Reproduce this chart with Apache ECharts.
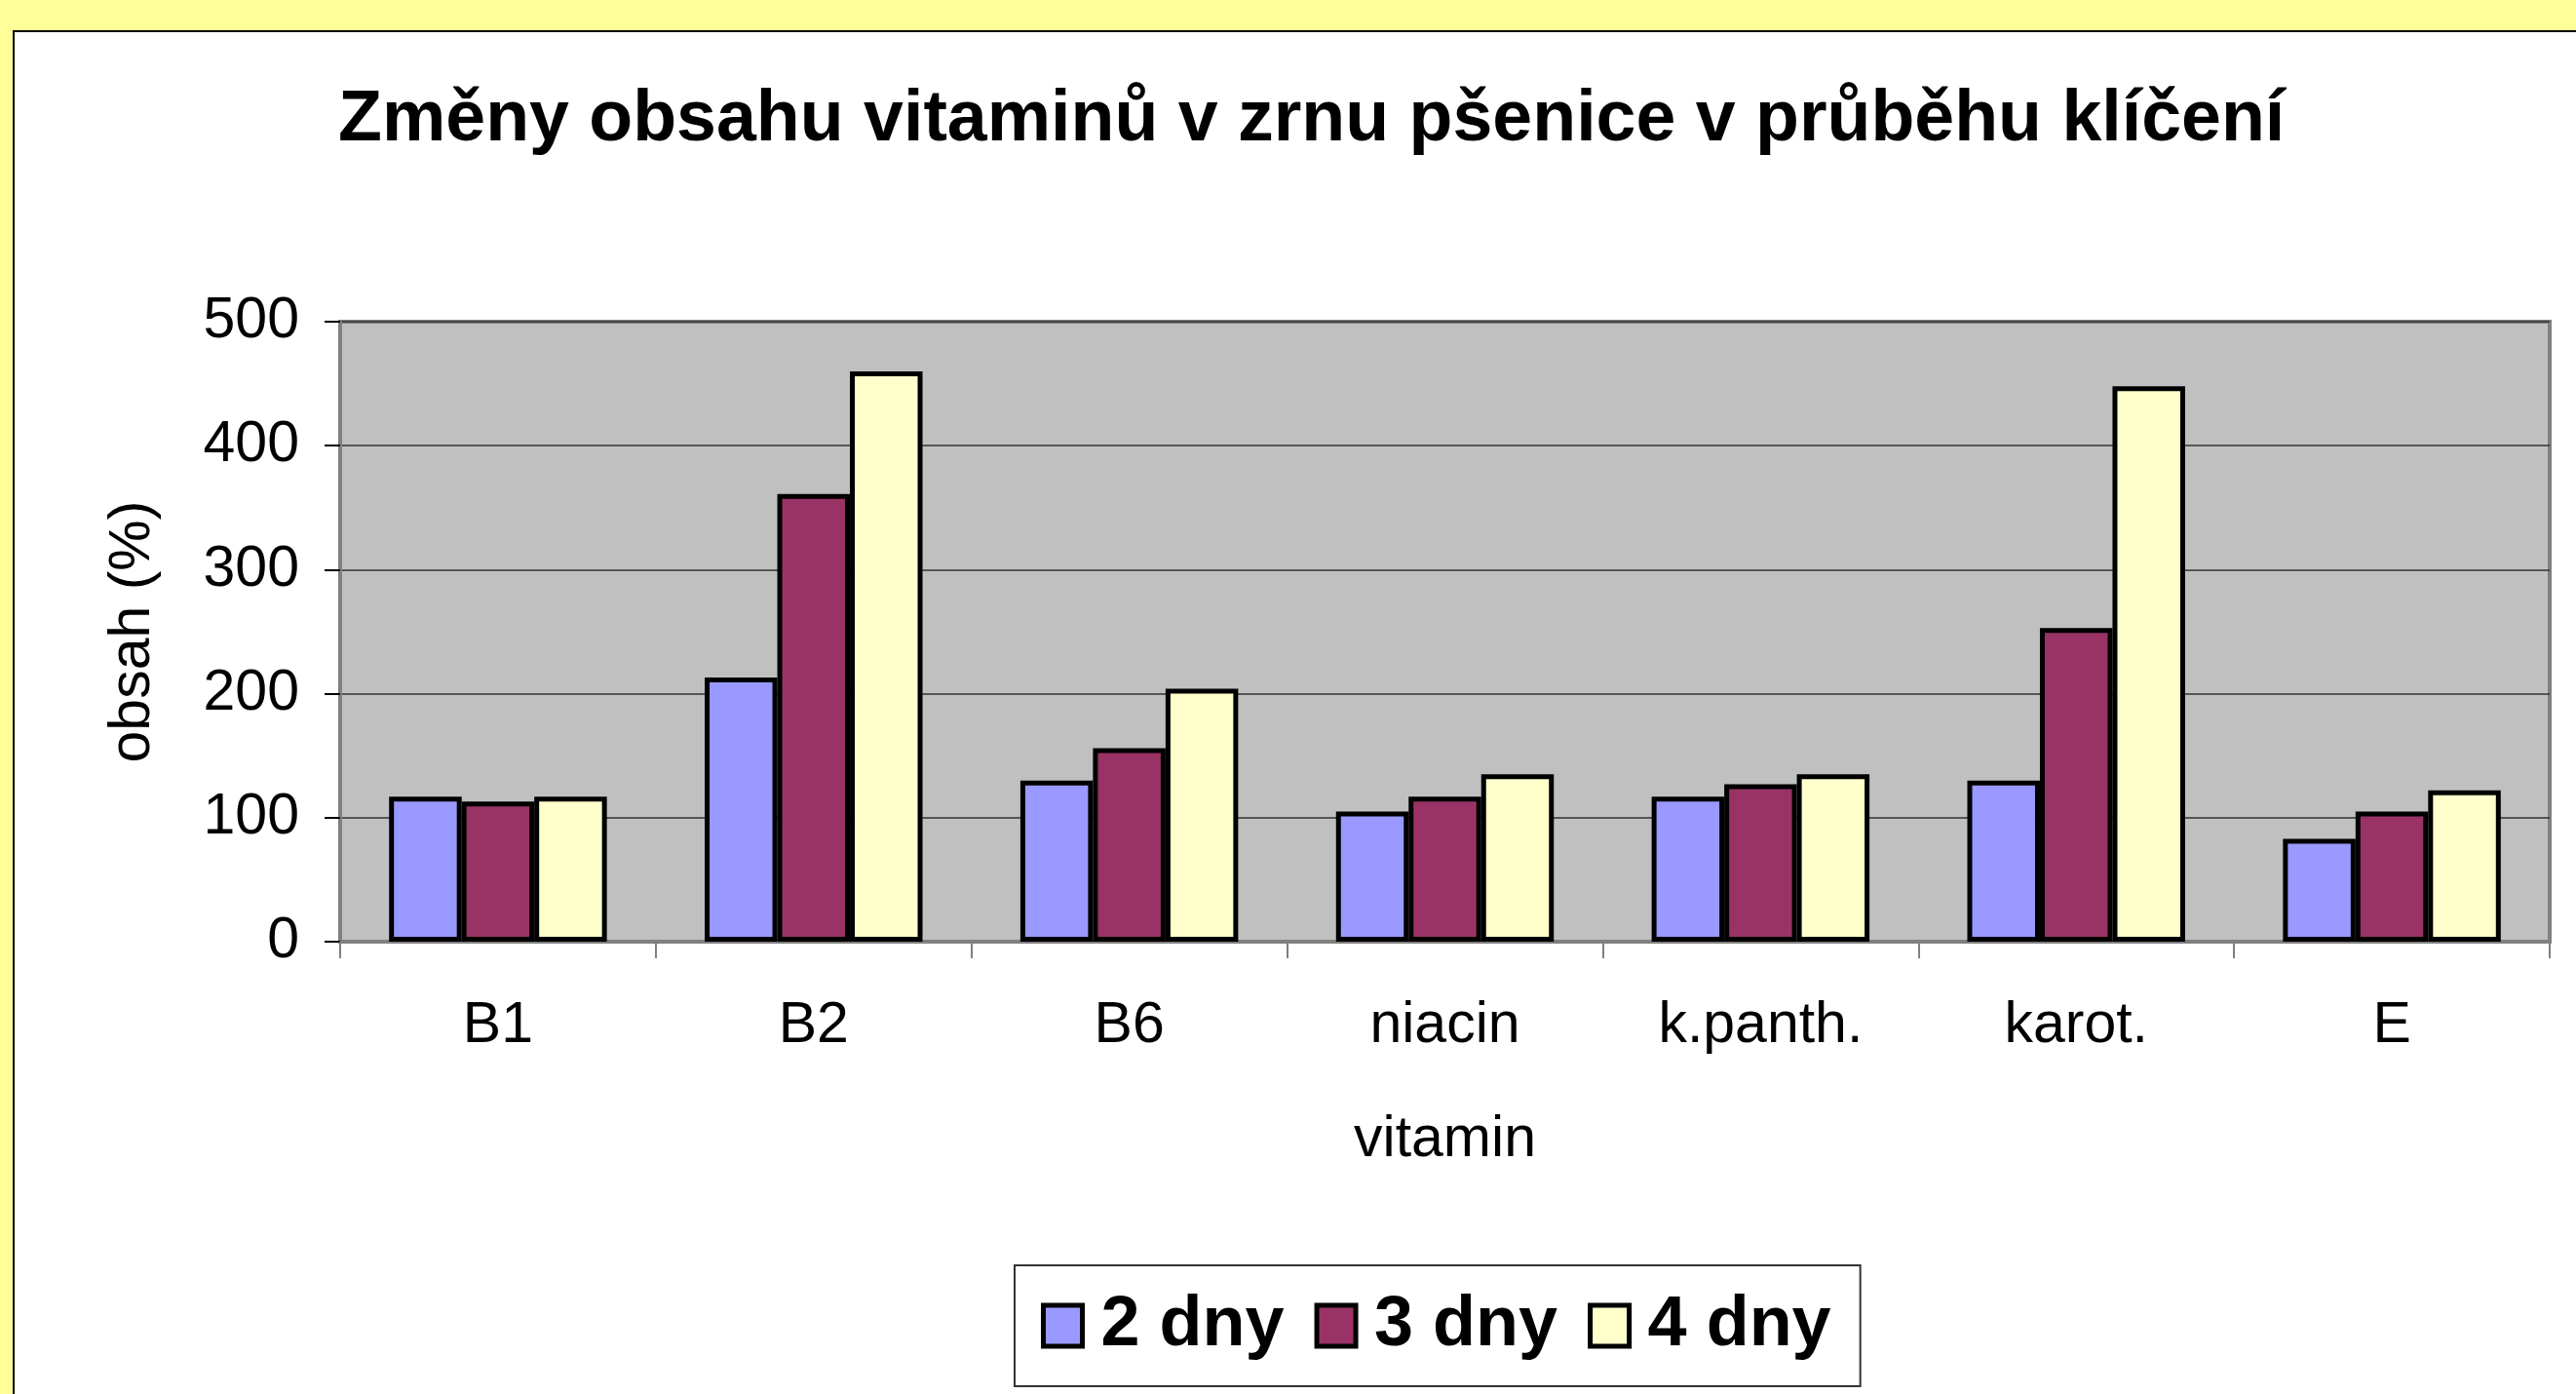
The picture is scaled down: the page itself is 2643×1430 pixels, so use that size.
<!DOCTYPE html>
<html>
<head>
<meta charset="utf-8">
<script src="https://cdn.jsdelivr.net/npm/echarts@6/dist/echarts.min.js"></script>
<style>
  html, body { margin: 0; padding: 0; background: #fff; }
  #chart { width: 2643px; height: 1430px; }
</style>
</head>
<body>
<div id="chart"></div>
<script>
  // kategorie a hodnoty (obsah v % oproti nenaklíčenému zrnu)
  const categories = ['B1', 'B2', 'B6', 'niacin', 'k.panth.', 'karot.', 'E'];
  const days2 = [117, 213, 130, 105, 117, 130, 83];
  const days3 = [113, 361, 156, 117, 127, 253, 105];
  const days4 = [117, 460, 204, 135, 135, 448, 122];
  const seriesNames = ['2 dny', '3 dny', '4 dny'];
  const yTicks = [0, 100, 200, 300, 400, 500];

  const colors = ['#9999FF', '#993366', '#FFFFCC'];
  const font = '"Liberation Sans", Arial, sans-serif';

  const chart = echarts.init(document.getElementById('chart'));

  const barSeries = [days2, days3, days4].map(function (d, i) {
    return {
      name: seriesNames[i],
      type: 'bar',
      data: d,
      barGap: '0%',
      barCategoryGap: '31%',
      itemStyle: { color: colors[i], borderColor: '#000', borderWidth: 5 }
    };
  });

  const option = {
    animation: false,
    backgroundColor: '#fff',
    textStyle: { fontFamily: font },
    graphic: [
      // žlutý okraj snímku
      { type: 'rect', shape: { x: 0, y: 0, width: 2643, height: 31 }, style: { fill: '#FFFF99' }, z: -1 },
      { type: 'rect', shape: { x: 0, y: 0, width: 13, height: 1430 }, style: { fill: '#FFFF99' }, z: -1 },
      { type: 'line', shape: { x1: 13, y1: 32, x2: 2643, y2: 32 }, style: { stroke: '#000', lineWidth: 2 } },
      { type: 'line', shape: { x1: 14, y1: 32, x2: 14, y2: 1430 }, style: { stroke: '#000', lineWidth: 2 } }
    ],
    title: {
      text: 'Změny obsahu vitaminů v zrnu pšenice v průběhu klíčení',
      left: 347,
      top: 87,
      padding: 0,
      textStyle: { fontFamily: font, fontSize: 73.5, fontWeight: 'bold', color: '#000', lineHeight: 74 }
    },
    legend: {
      data: seriesNames,
      left: 1041,
      top: 1298,
      icon: 'rect',
      itemWidth: 40,
      itemHeight: 42,
      itemGap: 31,
      padding: [26, 30, 26, 27],
      borderColor: '#333',
      borderWidth: 2,
      backgroundColor: '#fff',
      itemStyle: { borderColor: '#000', borderWidth: 5 },
      textStyle: { fontFamily: font, fontSize: 72, fontWeight: 'bold', color: '#000', lineHeight: 72, padding: [0, 0, 0, 14] }
    },
    grid: {
      left: 349,
      right: 27,
      top: 330,
      bottom: 464,
      show: true,
      backgroundColor: '#C0C0C0',
      borderColor: '#808080',
      borderWidth: 4
    },
    xAxis: {
      type: 'category',
      data: categories,
      name: 'vitamin',
      nameLocation: 'middle',
      nameGap: 174,
      nameTextStyle: { fontFamily: font, fontSize: 59, color: '#000' },
      axisLine: { lineStyle: { color: '#808080', width: 4 } },
      axisTick: { show: true, length: 17, lineStyle: { color: '#808080', width: 2 } },
      axisLabel: { fontFamily: font, fontSize: 59, color: '#000', margin: 57 },
      splitLine: { show: false }
    },
    yAxis: {
      type: 'value',
      min: yTicks[0],
      max: yTicks[yTicks.length - 1],
      interval: 100,
      name: 'obsah (%)',
      nameLocation: 'middle',
      nameGap: 183,
      nameTextStyle: { fontFamily: font, fontSize: 59, color: '#000' },
      axisLine: { show: true, lineStyle: { color: '#808080', width: 4 } },
      axisTick: { show: true, length: 16, lineStyle: { color: '#000', width: 2 } },
      axisLabel: { fontFamily: font, fontSize: 59, color: '#000', margin: 42 },
      splitLine: { show: true, lineStyle: { color: '#333', width: 1.5 } }
    },
    series: barSeries
  };

  chart.setOption(option);
</script>
</body>
</html>
